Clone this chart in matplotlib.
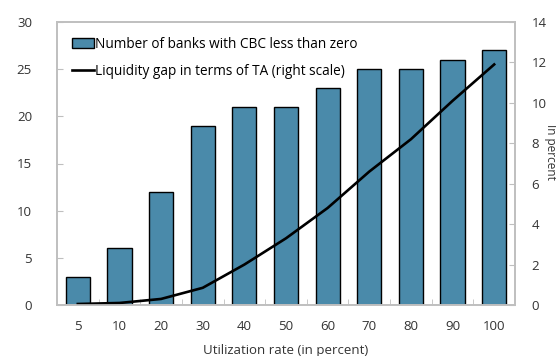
import matplotlib
matplotlib.use("Agg")
import matplotlib.pyplot as plt
import numpy as np

# Utilization rate categories
rates = ["5", "10", "20", "30", "40", "50", "60", "70", "80", "90", "100"]
# Number of banks with CBC < 0 (left axis)
banks = [3, 6, 12, 19, 21, 21, 23, 25, 25, 26, 27]
# Liquidity gap, percent of TA (right axis)
gap = [0.05, 0.1, 0.3, 0.85, 2.0, 3.3, 4.8, 6.6, 8.2, 10.1, 11.9]

bar_color = "#4a8aaa"
spine_color = "#bfbfbf"
text_color = "#333333"

plt.rcParams.update({"font.family": "Open Sans", "font.size": 9.5})

fig = plt.figure(figsize=(5.56, 3.56), dpi=100)
ax = fig.add_axes([57 / 556, 1 - 305 / 356, 458 / 556, 283 / 356])
ax2 = ax.twinx()

x = np.arange(len(rates))
ax.bar(x, banks, width=0.58, color=bar_color, edgecolor="black", linewidth=1.0,
       label="Number of banks with CBC less than zero", zorder=2)
ax2.plot(x, gap, color="black", linewidth=1.9,
         label="Liquidity gap in terms of TA (right scale)")

ax.set_xlim(-0.5, len(rates) - 0.5)
ax.set_ylim(0, 30)
ax.set_yticks(range(0, 31, 5))
ax2.set_ylim(0, 14)
ax2.set_yticks(range(0, 15, 2))

ax.set_xticks(x)
ax.set_xticklabels(rates)
ax.set_xticks(x[:-1] + 0.5, minor=True)
ax.tick_params(axis="x", which="major", length=0, pad=11, colors=text_color)
ax.tick_params(axis="x", which="minor", direction="in", length=4, color=spine_color)
ax.tick_params(axis="y", direction="in", length=4, color=spine_color,
               labelcolor=text_color, pad=18)
ax2.tick_params(axis="y", direction="in", length=4, color=spine_color,
                labelcolor=text_color, pad=12)

for a in (ax, ax2):
    for s in a.spines.values():
        s.set_color(spine_color)
        s.set_linewidth(1.2)

ax.set_xlabel("Utilization rate (in percent)", color=text_color, labelpad=8)
fig.text(550 / 556, 1 - 152 / 356, "In percent", rotation=270, ha="center",
         va="center", color=text_color, fontsize=8.5)

h1, l1 = ax.get_legend_handles_labels()
h2, l2 = ax2.get_legend_handles_labels()
ax.legend(h1 + h2, l1 + l2, loc="upper left", frameon=False, fontsize=9.8,
          handlelength=1.6, handletextpad=0.1, borderaxespad=0.7,
          labelspacing=0.85, bbox_to_anchor=(0.0, 1.0))

fig.savefig("out.png", dpi=100, facecolor="white")
